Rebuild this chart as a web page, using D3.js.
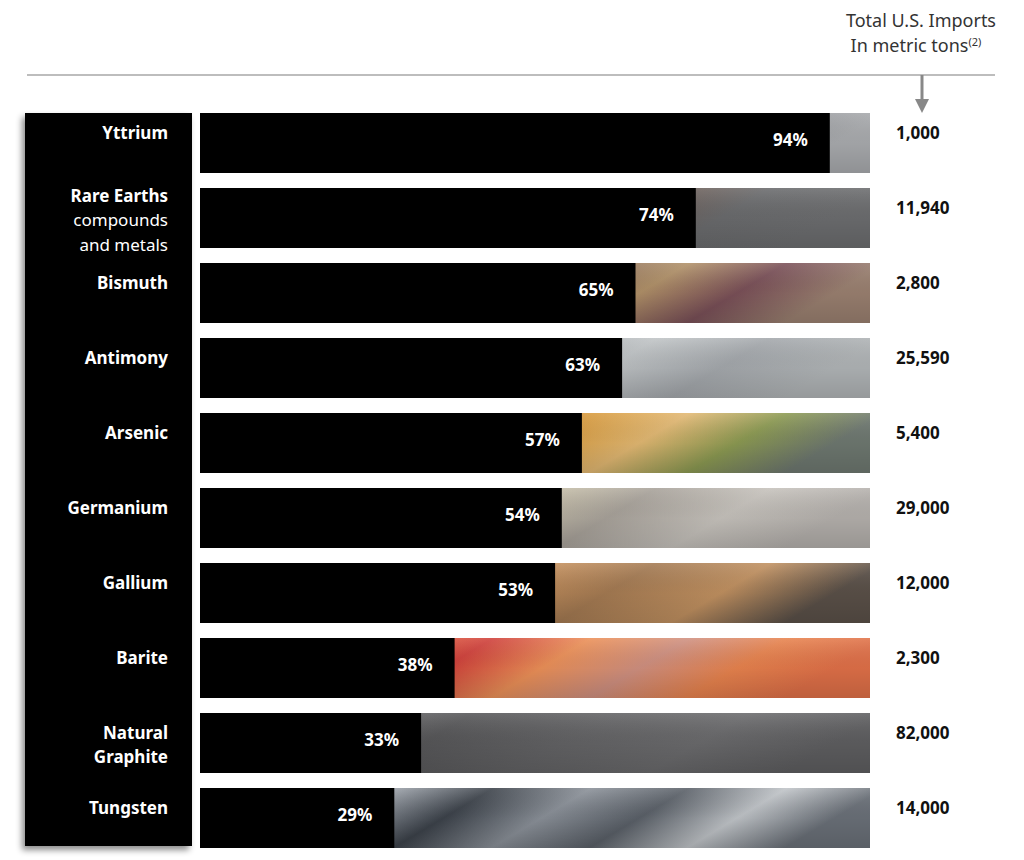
<!DOCTYPE html>
<html>
<head>
<meta charset="utf-8">
<script src="https://cdn.jsdelivr.net/npm/d3@7"></script>
<style>
  body { margin: 0; background: #fff; }
  svg text { font-family: "Noto Sans", "Open Sans", sans-serif; }
</style>
</head>
<body>
<div id="chart"></div>
<script>
// data
const minerals = ["Yttrium", "Rare Earths", "Bismuth", "Antimony", "Arsenic",
  "Germanium", "Gallium", "Barite", "Natural Graphite", "Tungsten"];
const labelLines = [
  [["Yttrium", true]],
  [["Rare Earths", true], ["compounds", false], ["and metals", false]],
  [["Bismuth", true]],
  [["Antimony", true]],
  [["Arsenic", true]],
  [["Germanium", true]],
  [["Gallium", true]],
  [["Barite", true]],
  [["Natural", true], ["Graphite", true]],
  [["Tungsten", true]]
];
const shares = [94, 74, 65, 63, 57, 54, 53, 38, 33, 29];   // % import reliance
const imports = ["1,000", "11,940", "2,800", "25,590", "5,400",
  "29,000", "12,000", "2,300", "82,000", "14,000"];

// stand-ins for the mineral photos
const textures = {
  "Yttrium": ["#8a8c90", "#b8babd", "#7d7f83", "#a9abae"],
  "Rare Earths": ["#6c6d6f", "#7e7f80", "#8c8c8c", "#6a6a6a", "#6e5c54", "#6a6b6d", "#6c6d6f"],
  "Bismuth": ["#8c7060", "#b4a274", "#a89878", "#6e5a62", "#8a6c58", "#b09068", "#7a5058", "#9a8070"],
  "Antimony": ["#9ea2a6", "#b8bcc0", "#8c9298", "#a8acb0", "#c0c4c6", "#a4a8ac", "#b0b4b6"],
  "Arsenic": ["#8a7050", "#c88a3a", "#e0a840", "#c8702c", "#d89a3c", "#e2b872", "#8c9a52", "#6e7870"],
  "Germanium": ["#a09a90", "#6a6660", "#7a7670", "#cac2aa", "#a8a29a", "#c6c2bc", "#b4b0ac"],
  "Gallium": ["#8a6a48", "#b08454", "#6a5c4c", "#c8925e", "#a47a52", "#c09060", "#5a5048"],
  "Barite": ["#e07c58", "#f08a4a", "#e86a40", "#d0403a", "#ec9058", "#d09080", "#e8834e", "#e07048"],
  "Natural Graphite": ["#5c5c5e", "#6a6a6c", "#565658", "#626264", "#6a6a6c", "#5e5e60"],
  "Tungsten": ["#6a7078", "#4a5058", "#9aa0a8", "#3c424a", "#8a9098", "#5a6068", "#c0c4c8", "#6a7078"]
};

const W = 1024, H = 860;
const svg = d3.select("#chart").append("svg")
  .attr("width", W).attr("height", H);

const defs = svg.append("defs");
const shadow = defs.append("filter").attr("id", "shadow")
  .attr("x", "-20%").attr("y", "-5%").attr("width", "140%").attr("height", "110%");
shadow.append("feDropShadow").attr("dx", -3).attr("dy", 4)
  .attr("stdDeviation", 3).attr("flood-color", "#000").attr("flood-opacity", 0.45);

minerals.forEach((m, i) => {
  const g = defs.append("linearGradient").attr("id", "tex" + i)
    .attr("x1", 0).attr("x2", 1).attr("y1", 0).attr("y2", 0.15);
  const stops = textures[m];
  stops.forEach((c, k) => {
    g.append("stop").attr("offset", k / (stops.length - 1)).attr("stop-color", c);
  });
});
const shade = defs.append("linearGradient").attr("id", "shade")
  .attr("x1", 0).attr("x2", 0).attr("y1", 0).attr("y2", 1);
shade.append("stop").attr("offset", 0).attr("stop-color", "#fff").attr("stop-opacity", 0.12);
shade.append("stop").attr("offset", 0.5).attr("stop-color", "#000").attr("stop-opacity", 0.05);
shade.append("stop").attr("offset", 1).attr("stop-color", "#000").attr("stop-opacity", 0.15);

// scales
const x = d3.scaleLinear().domain([0, 100]).range([200, 870]);
const y = d3.scaleBand().domain(minerals).range([113, 848]).paddingInner(0.2);

// header
const header = svg.append("text").attr("text-anchor", "middle")
  .attr("fill", "#333").style("font-size", "18px");
header.append("tspan").attr("x", 921).attr("y", 27).text("Total U.S. Imports");
header.append("tspan").attr("x", 916).attr("y", 52).text("In metric tons");
header.append("tspan").attr("dy", -6).style("font-size", "11px").text("(2)");

svg.append("line").attr("x1", 27).attr("x2", 995).attr("y1", 75).attr("y2", 75)
  .attr("stroke", "#bdbdbd").attr("stroke-width", 2);
svg.append("line").attr("x1", 922).attr("x2", 922).attr("y1", 75).attr("y2", 100)
  .attr("stroke", "#888").attr("stroke-width", 3);
svg.append("path").attr("d", "M915,99 L929,99 L922,113 Z").attr("fill", "#888");

// left black panel with labels
svg.append("rect").attr("x", 25).attr("y", 113).attr("width", 167).attr("height", 733)
  .attr("fill", "#000").attr("filter", "url(#shadow)");

const rows = svg.selectAll("g.row").data(minerals).enter().append("g").attr("class", "row");

rows.each(function (m, i) {
  const lines = labelLines[i];
  const top = y(m);
  const first = lines.length === 1 ? top + 26
    : top + y.bandwidth() / 2 + 8 - (lines.length - 1) * 24.5 / 2;
  const t = d3.select(this).append("text").attr("text-anchor", "end")
    .attr("fill", "#fff").style("font-size", "17px");
  lines.forEach((ln, k) => {
    t.append("tspan").attr("x", 168).attr("y", first + k * 24.5)
      .style("font-weight", ln[1] ? "700" : "400").text(ln[0]);
  });
});

// texture remainder (full bar), then black share bar
rows.append("rect")
  .attr("x", x(0)).attr("y", d => y(d))
  .attr("width", x(100) - x(0)).attr("height", y.bandwidth())
  .attr("fill", (d, i) => `url(#tex${i})`);
rows.append("rect")
  .attr("x", x(0)).attr("y", d => y(d))
  .attr("width", x(100) - x(0)).attr("height", y.bandwidth())
  .attr("fill", "url(#shade)");
rows.append("rect")
  .attr("x", x(0)).attr("y", d => y(d))
  .attr("width", (d, i) => x(shares[i]) - x(0)).attr("height", y.bandwidth())
  .attr("fill", "#000");

rows.append("text")
  .attr("x", (d, i) => x(shares[i]) - 22)
  .attr("y", d => y(d) + y.bandwidth() / 2 + 3)
  .attr("text-anchor", "end").attr("fill", "#fff")
  .style("font-size", "17px").style("font-weight", "700")
  .text((d, i) => shares[i] + "%");

rows.append("text")
  .attr("x", 896).attr("y", d => y(d) + 26)
  .attr("fill", "#111").style("font-size", "17px").style("font-weight", "700")
  .text((d, i) => imports[i]);
</script>
</body>
</html>
